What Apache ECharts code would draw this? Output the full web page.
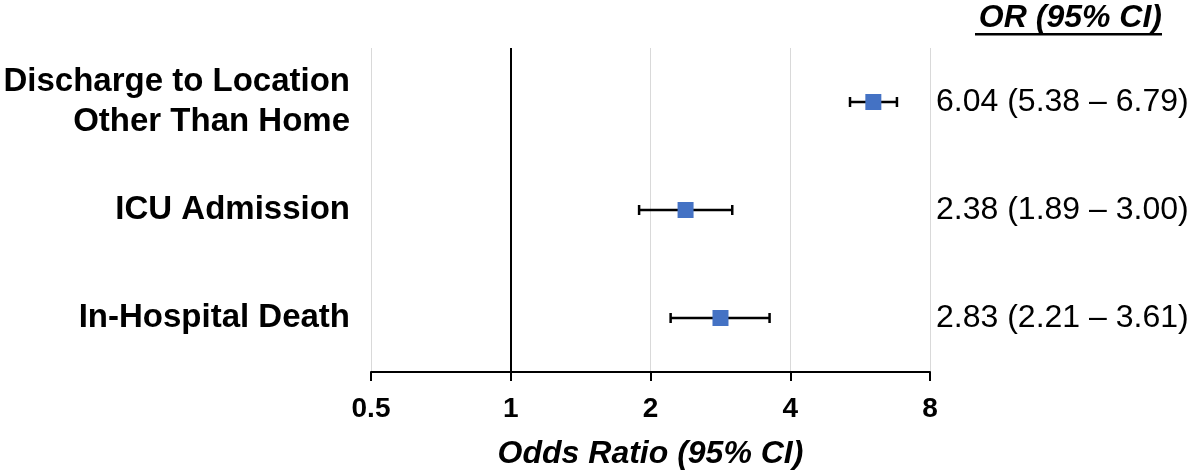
<!DOCTYPE html>
<html>
<head>
<meta charset="utf-8">
<script src="https://cdn.jsdelivr.net/npm/echarts@6/dist/echarts.min.js"></script>
<style>
  html, body { margin: 0; padding: 0; background: #fff; }
  #chart { width: 1200px; height: 474px; }
</style>
</head>
<body>
<div id="chart"></div>
<script>
// outcomes, top to bottom
const outcomes = ['Discharge to Location\nOther Than Home', 'ICU Admission', 'In-Hospital Death']
const oddsRatio = [6.04, 2.38, 2.83]
const ciLow = [5.38, 1.89, 2.21]
const ciHigh = [6.79, 3.00, 3.61]
const xTicks = [0.5, 1, 2, 4, 8]

const FONT = '"Liberation Sans", Arial, Helvetica, sans-serif'

const orText = oddsRatio.map((v, i) =>
  v.toFixed(2) + ' (' + ciLow[i].toFixed(2) + ' \u2013 ' + ciHigh[i].toFixed(2) + ')')

const myChart = echarts.init(document.getElementById('chart'))

myChart.setOption({
  animation: false,
  backgroundColor: '#fff',
  grid: { left: 371, right: 270, top: 48, bottom: 102, outerBoundsMode: 'none' },
  xAxis: {
    type: 'log',
    logBase: 2,
    min: xTicks[0],
    max: xTicks[xTicks.length - 1],
    splitNumber: 4,
    name: 'Odds Ratio (95% CI)',
    nameLocation: 'middle',
    nameGap: 66,
    nameTextStyle: { fontFamily: FONT, fontSize: 32, fontWeight: 'bold', fontStyle: 'italic', color: '#000' },
    axisLine: { show: true, lineStyle: { color: '#000', width: 2 } },
    axisTick: { show: true, length: 9, lineStyle: { color: '#000', width: 2 } },
    axisLabel: {
      margin: 23,
      fontFamily: FONT, fontSize: 28, fontWeight: 'bold', color: '#000',
      formatter: v => String(+v.toPrecision(3))
    },
    splitLine: { show: true, lineStyle: { color: '#d9d9d9', width: 1 } }
  },
  yAxis: [{
    type: 'category',
    data: outcomes,
    inverse: true,
    axisLine: { show: false },
    axisTick: { show: false },
    splitLine: { show: false },
    axisLabel: {
      margin: 21,
      fontFamily: FONT, fontSize: 33, fontWeight: 'bold', color: '#000',
      lineHeight: 40, align: 'right'
    }
  }, {
    type: 'category',
    data: outcomes,
    inverse: true,
    position: 'right',
    axisLine: { show: false },
    axisTick: { show: false },
    splitLine: { show: false },
    axisLabel: {
      margin: 6,
      fontFamily: FONT, fontSize: 32, color: '#000', align: 'left',
      formatter: (v, i) => orText[i]
    }
  }],
  graphic: [{
    type: 'text',
    right: 38,
    top: 2,
    style: {
      text: 'OR (95% CI)',
      font: 'italic bold 32px ' + FONT,
      fill: '#000'
    }
  }, {
    type: 'rect',
    shape: { x: 975, y: 33, width: 187, height: 2.5 },
    style: { fill: '#000' }
  }],
  series: [{
    type: 'custom',
    name: 'CI',
    data: outcomes.map((c, i) => [i, ciLow[i], ciHigh[i]]),
    encode: { x: [1, 2], y: 0 },
    renderItem (params, api) {
      const lo = api.coord([api.value(1), api.value(0)])
      const hi = api.coord([api.value(2), api.value(0)])
      const cap = 5
      const style = { stroke: '#000', lineWidth: 2.5 }
      return {
        type: 'group',
        children: [
          { type: 'line', shape: { x1: lo[0], y1: lo[1], x2: hi[0], y2: hi[1] }, style },
          { type: 'line', shape: { x1: lo[0], y1: lo[1] - cap, x2: lo[0], y2: lo[1] + cap }, style },
          { type: 'line', shape: { x1: hi[0], y1: hi[1] - cap, x2: hi[0], y2: hi[1] + cap }, style }
        ]
      }
    },
    markLine: {
      silent: true,
      symbol: 'none',
      label: { show: false },
      lineStyle: { color: '#000', width: 2, type: 'solid' },
      data: [{ xAxis: 1 }]
    },
    z: 2
  }, {
    type: 'scatter',
    name: 'OR',
    data: oddsRatio.map((v, i) => [v, i]),
    symbol: 'rect',
    symbolSize: 16,
    itemStyle: { color: '#4472C4', opacity: 1 },
    z: 3
  }]
})
</script>
</body>
</html>
